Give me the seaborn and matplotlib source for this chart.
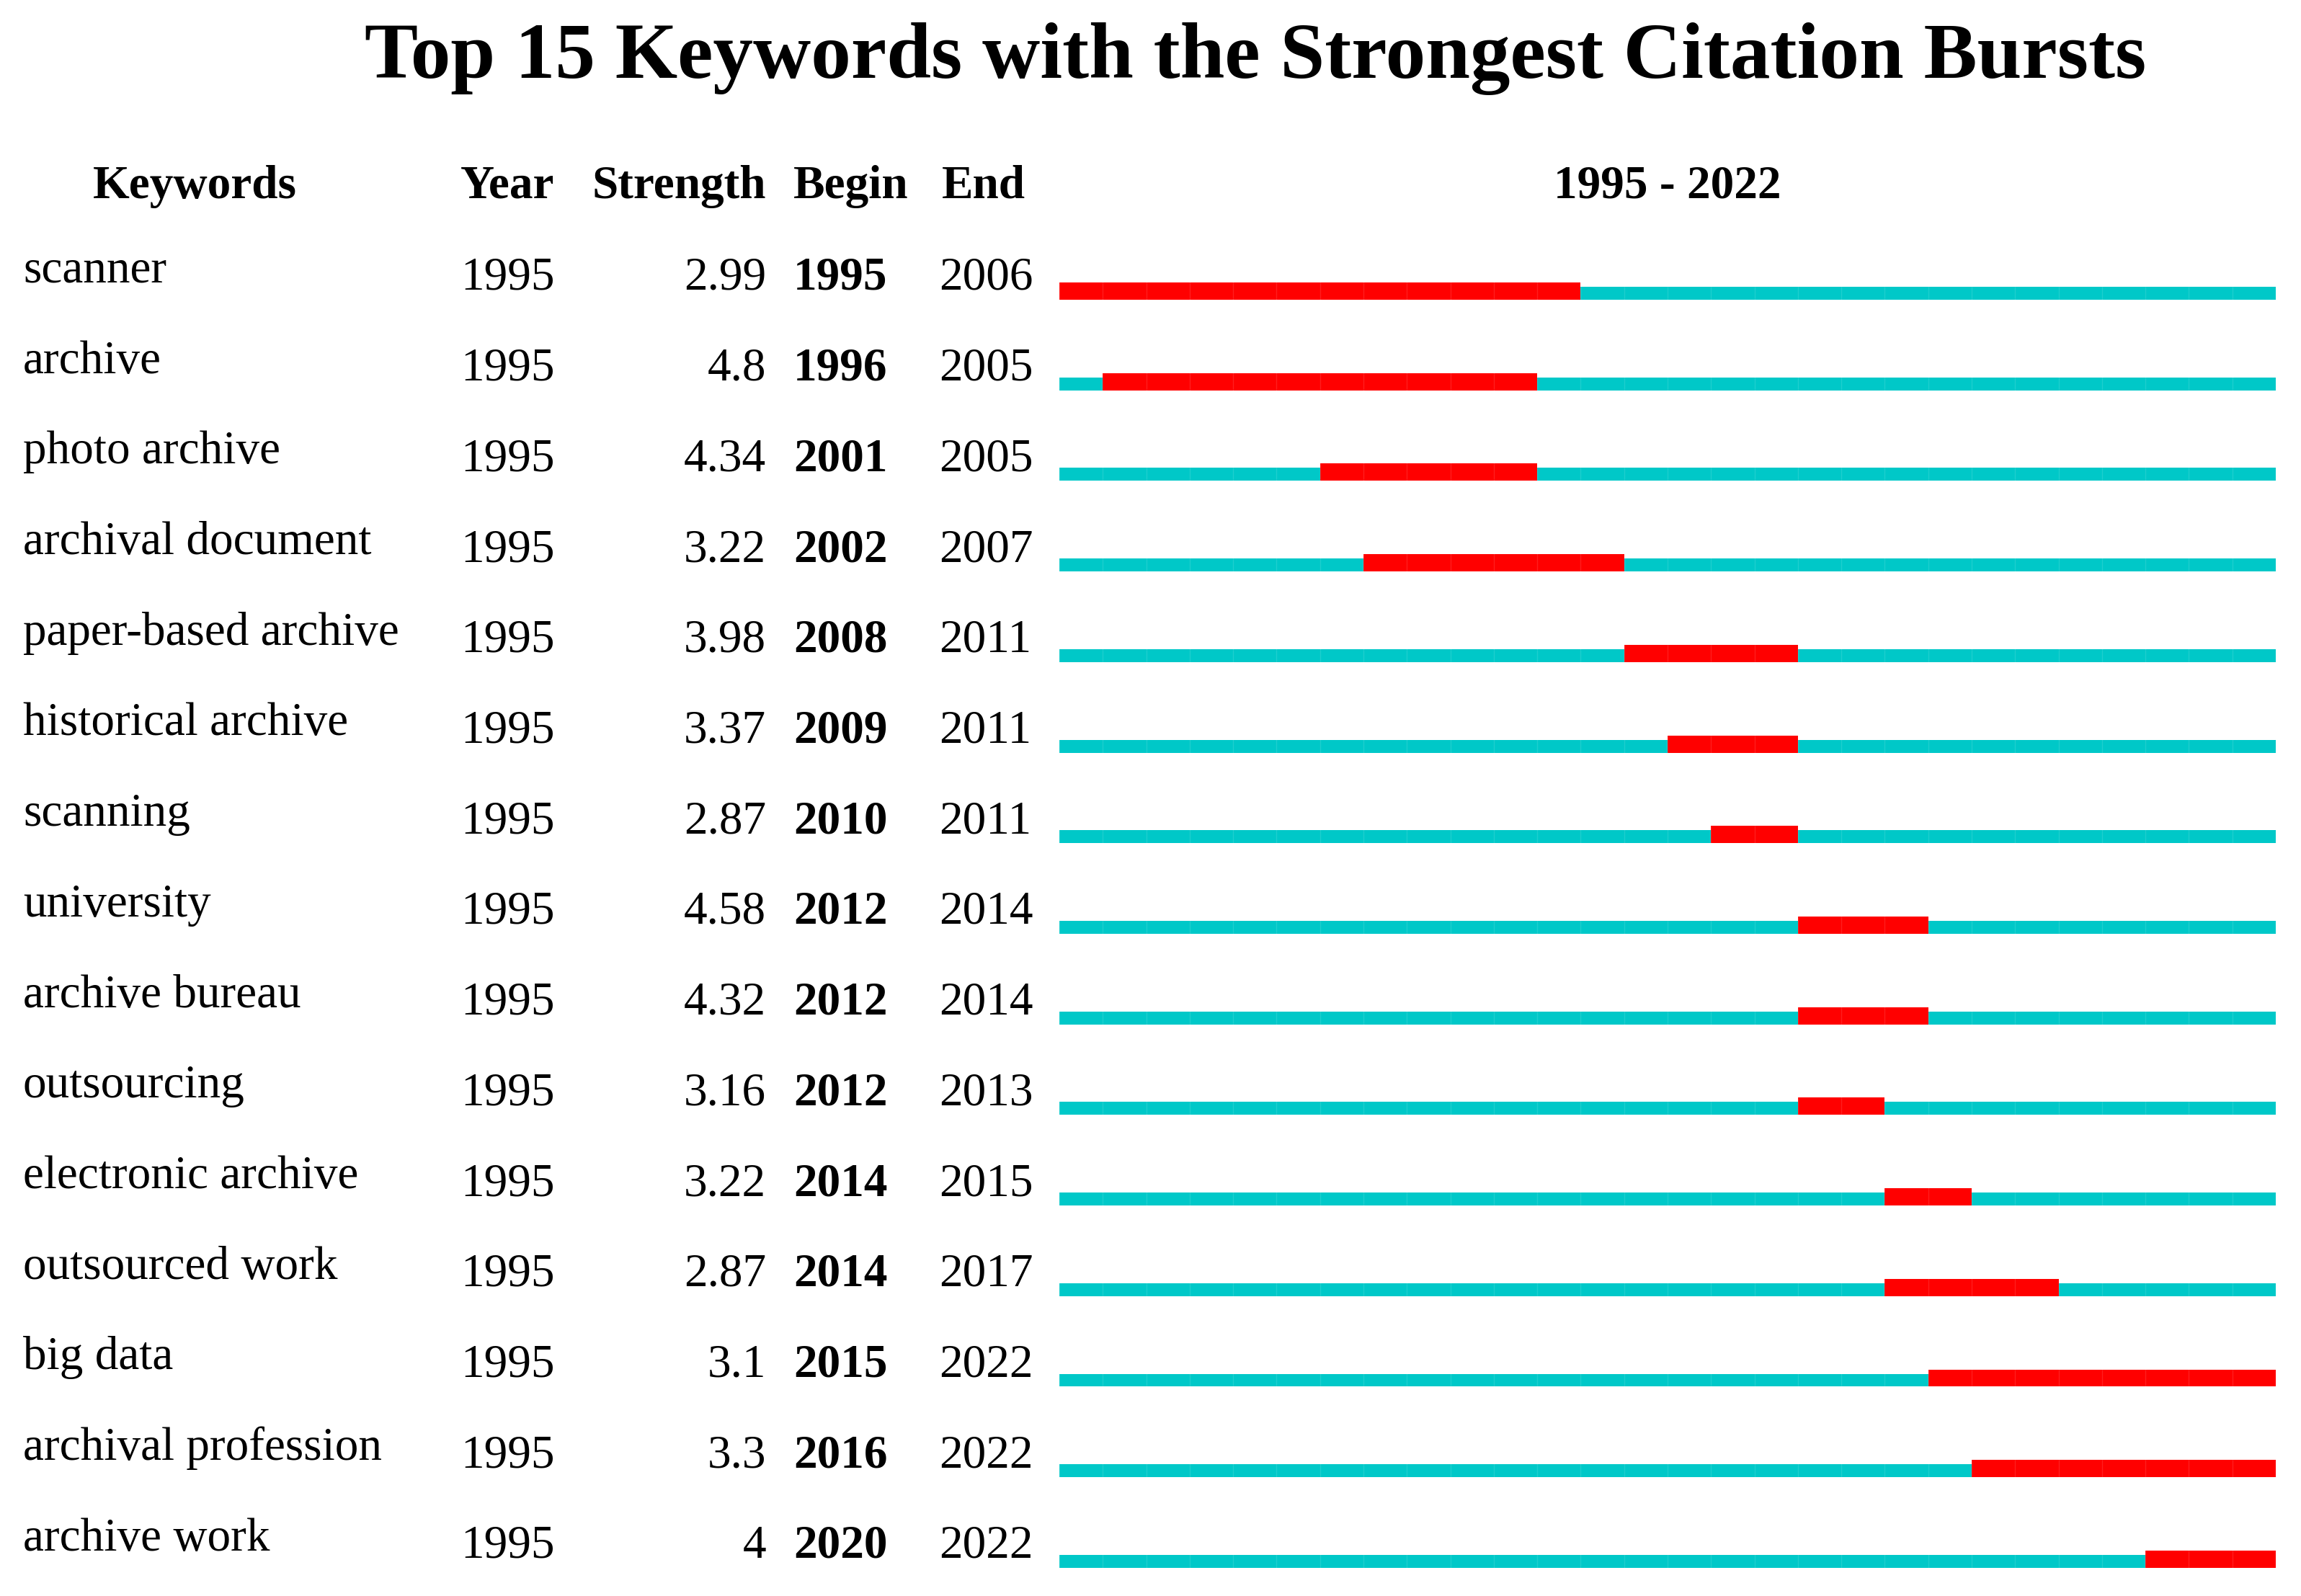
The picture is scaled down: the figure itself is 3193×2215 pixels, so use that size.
import numpy as np
import pandas as pd
import matplotlib
matplotlib.use('Agg')
import matplotlib.pyplot as plt
import matplotlib.transforms as mtransforms
import seaborn as sns

# Burst data (CiteSpace-style table)
keywords = ['scanner', 'archive', 'photo archive', 'archival document',
            'paper-based archive', 'historical archive', 'scanning', 'university',
            'archive bureau', 'outsourcing', 'electronic archive', 'outsourced work',
            'big data', 'archival profession', 'archive work']
first_year = [1995] * 15
strength = [2.99, 4.8, 4.34, 3.22, 3.98, 3.37, 2.87, 4.58, 4.32, 3.16, 3.22, 2.87, 3.1, 3.3, 4]
begin = [1995, 1996, 2001, 2002, 2008, 2009, 2010, 2012, 2012, 2012, 2014, 2014, 2015, 2016, 2020]
end = [2006, 2005, 2005, 2007, 2011, 2011, 2011, 2014, 2014, 2013, 2015, 2017, 2022, 2022, 2022]
start_year, stop_year = 1995, 2022

df = pd.DataFrame({'Keywords': keywords, 'Year': first_year, 'Strength': strength,
                   'Begin': begin, 'End': end})
df['span'] = stop_year - start_year + 1
df['burst_left'] = df['Begin'] - start_year
df['burst_len'] = df['End'] - df['Begin'] + 1

sns.set_theme(style='white')
plt.rcParams['font.family'] = ['Liberation Serif', 'DejaVu Serif']
plt.rcParams['text.color'] = 'black'

W, H = 3193, 2215
fig = plt.figure(figsize=(W / 100, H / 100), dpi=100)

CYAN = '#00C8C8'
RED = '#FF0000'
thin = 0.143   # timeline height (rows)
thick = 0.19   # burst height (rows)

ax = fig.add_axes([1470 / W, 0.01603, (3158 - 1470) / W, 0.8570])
sns.barplot(data=df, x='span', y='Keywords', orient='h', color=CYAN,
            width=thin, saturation=1, ax=ax, linewidth=0)
ypos = np.arange(len(df))
# bursts share the bottom edge with the timeline
ax.barh(ypos + thin / 2 - thick / 2, df['burst_len'], left=df['burst_left'],
        height=thick, color=RED, linewidth=0)

ax.set_xlim(0, stop_year - start_year + 1)
ax.set_ylim(14.1, -1.0)
# faint year dividers
ax.set_xticks(np.arange(0, stop_year - start_year + 2))
ax.grid(axis='x', color='white', alpha=0.12, linewidth=1.0)
ax.set_axisbelow(False)
ax.tick_params(length=0, labelbottom=False, labelleft=False)
ax.set_xlabel('')
ax.set_ylabel('')
for s in ax.spines.values():
    s.set_visible(False)

tr = mtransforms.blended_transform_factory(fig.transFigure, ax.transData)
tr_bars = mtransforms.blended_transform_factory(ax.transAxes, ax.transData)
fs = 47
num_dy = -0.04
kw_dy = -0.12
head_y = -1.05

def fig_x(px):
    return px / W

# column headers
headers = [('Keywords', 270, 'center'), ('Year', 639, 'left'),
           ('Strength', 1063, 'right'), ('Begin', 1101, 'left'), ('End', 1307, 'left')]
for label, px, ha in headers:
    ax.text(fig_x(px), head_y, label, transform=tr, ha=ha, va='baseline',
            fontsize=fs, fontweight='bold', clip_on=False)
ax.text(0.5, head_y, f'{start_year} - {stop_year}', transform=tr_bars,
        ha='center', va='baseline', fontsize=fs, fontweight='bold', clip_on=False)

for i, row in df.iterrows():
    ax.text(fig_x(32), i + kw_dy, row['Keywords'], transform=tr, ha='left',
            va='baseline', fontsize=fs, clip_on=False)
    ax.text(fig_x(639), i + num_dy, str(row['Year']), transform=tr, ha='left',
            va='baseline', fontsize=fs, clip_on=False)
    ax.text(fig_x(1063), i + num_dy, f"{row['Strength']:g}", transform=tr, ha='right',
            va='baseline', fontsize=fs, clip_on=False)
    ax.text(fig_x(1101), i + num_dy, str(row['Begin']), transform=tr, ha='left',
            va='baseline', fontsize=fs, fontweight='bold', clip_on=False)
    ax.text(fig_x(1303), i + num_dy, str(row['End']), transform=tr, ha='left',
            va='baseline', fontsize=fs, clip_on=False)

fig.text(1742 / W, 1 - 108 / H, 'Top 15 Keywords with the Strongest Citation Bursts',
         ha='center', va='baseline', fontsize=80, fontweight='bold')

fig.savefig('out.png', dpi=100, facecolor='white')
